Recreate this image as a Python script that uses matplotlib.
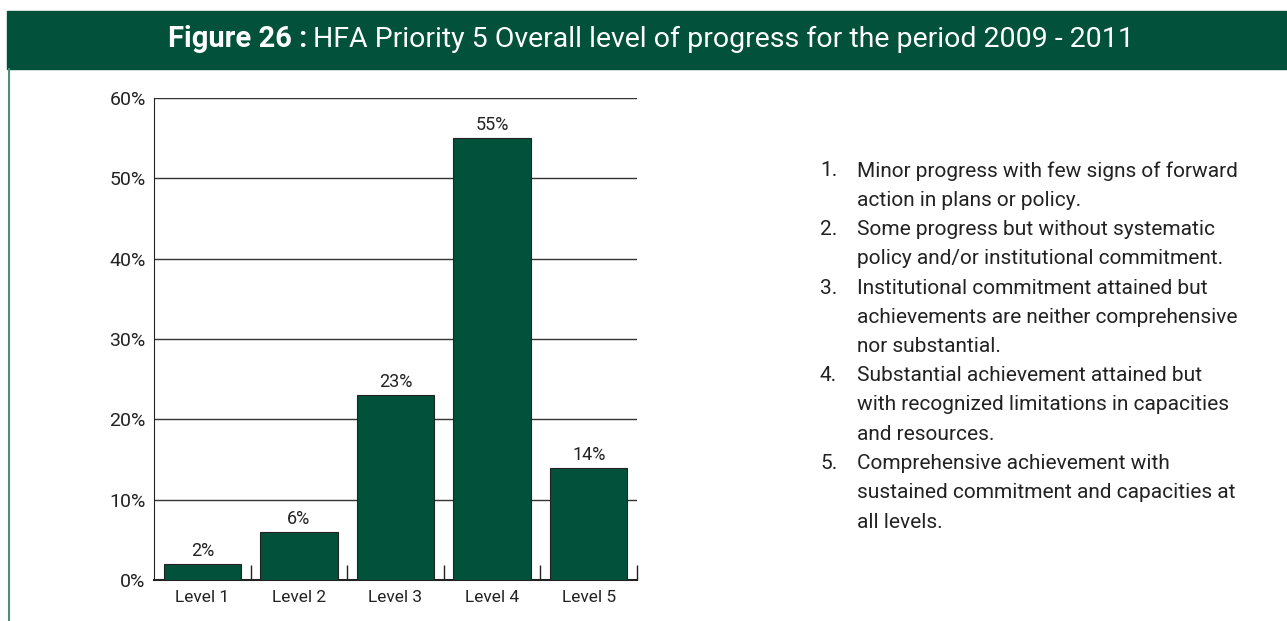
import matplotlib
matplotlib.use('Agg')
import matplotlib.pyplot as plt
from matplotlib.patches import Rectangle
from matplotlib.lines import Line2D

plt.rcParams['font.family'] = ['Roboto', 'DejaVu Sans']

# Dữ liệu
levels = ['Level 1', 'Level 2', 'Level 3', 'Level 4', 'Level 5']
percent = [2, 6, 23, 55, 14]
y_ticks = [0, 10, 20, 30, 40, 50, 60]
notes = [
    ('1.', ['Minor progress with few signs of forward', 'action in plans or policy.']),
    ('2.', ['Some progress but without systematic', 'policy and/or institutional commitment.']),
    ('3.', ['Institutional commitment attained but', 'achievements are neither comprehensive', 'nor substantial.']),
    ('4.', ['Substantial achievement attained but', 'with recognized limitations in capacities', 'and resources.']),
    ('5.', ['Comprehensive achievement with', 'sustained commitment and capacities at', 'all levels.']),
]

green = '#02513b'
W, H = 1287, 621

fig = plt.figure(figsize=(W / 100, H / 100), dpi=100)

# Thanh tiêu đề màu xanh
fig.patches.append(Rectangle((7 / W, 1 - 69 / H), 1 - 7 / W, 58 / H,
                             transform=fig.transFigure, color=green, zorder=0))
fig.lines.append(Line2D([8.5 / W, 8.5 / W], [0, 1 - 69 / H], transform=fig.transFigure,
                        color='#4d8f78', lw=1.5))

t1 = fig.text(168 / W, 1 - 39 / H, 'Figure 26 :', color='white', fontsize=21,
              fontweight='bold', va='center', ha='left')
fig.canvas.draw()
bb = t1.get_window_extent()
fig.text(bb.x1 / W + 6 / W, 1 - 39 / H, 'HFA Priority 5 Overall level of progress for the period 2009 - 2011',
         color='white', fontsize=20.5, va='center', ha='left')

# Biểu đồ cột
ax = fig.add_axes([154 / W, 41 / H, 483 / W, 482 / H])
x = range(len(levels))
ax.bar(x, percent, width=0.8, color=green, edgecolor='#222222', linewidth=0.8, zorder=3)
for i, v in enumerate(percent):
    ax.text(i, v + 0.5, f'{v}%', ha='center', va='bottom', fontsize=13, color='#222222')

ax.set_xlim(-0.5, len(levels) - 0.5)
ax.set_ylim(0, 60)
ax.set_yticks(y_ticks)
ax.set_yticklabels([f'{t}%' for t in y_ticks], fontsize=14, color='#222222')
ax.set_xticks(list(x))
ax.set_xticklabels(levels, fontsize=12.5, color='#222222')
ax.tick_params(axis='x', length=0, pad=7)
ax.tick_params(axis='y', length=0, pad=6)
ax.set_xticks([i + 0.5 for i in range(len(levels))], minor=True)
ax.tick_params(axis='x', which='minor', direction='in', length=11, width=1, color='#222222')
ax.yaxis.grid(True, color='#333333', linewidth=1, zorder=0)
ax.set_axisbelow(True)
for s in ['top', 'right']:
    ax.spines[s].set_visible(False)
ax.spines['left'].set_color('#222222')
ax.spines['bottom'].set_color('#222222')
ax.spines['bottom'].set_linewidth(1.5)

# Chú thích các mức
y = 171
for num, lines in notes:
    fig.text(820 / W, 1 - y / H, num, fontsize=15, color='#222222', va='center', ha='left')
    for ln in lines:
        fig.text(857 / W, 1 - y / H, ln, fontsize=15, color='#222222', va='center', ha='left')
        y += 29.25

fig.savefig('out.png', dpi=100)
